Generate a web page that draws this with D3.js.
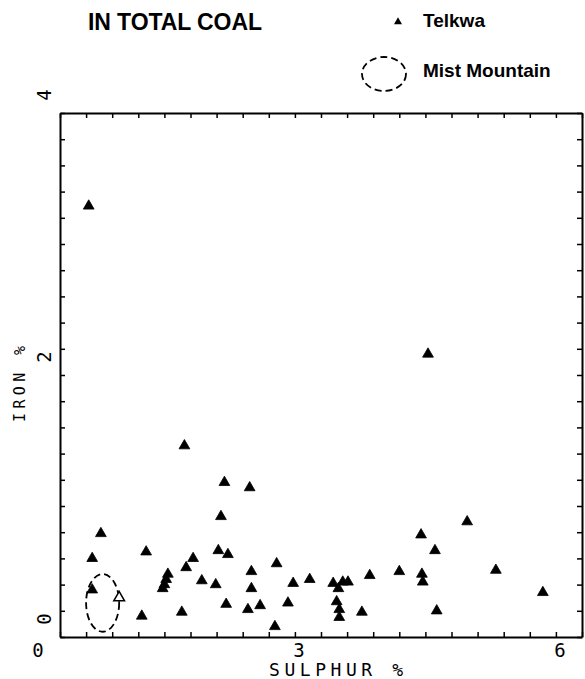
<!DOCTYPE html>
<html>
<head>
<meta charset="utf-8">
<script src="https://cdn.jsdelivr.net/npm/d3@7"></script>
<style>
  body { margin: 0; background: #fff; }
  .axis path { stroke: #000; stroke-width: 2; }
  .axis line { stroke: #000; stroke-width: 1.5; }
  .plotfont { font-family: "DejaVu Sans Mono", monospace; fill: #000; }
</style>
</head>
<body>
<script>
var width = 585,
    height = 679;

// sulphur % / iron % for the Telkwa samples
var sulphur = [0.33, 4.23, 1.43, 1.89, 2.18, 1.85, 0.47, 0.37, 0.99, 1.53,
               1.45, 1.82, 1.93, 2.49, 1.24, 1.22, 1.20, 1.18, 1.63, 1.79,
               2.20, 2.20, 2.68, 2.87, 1.91, 2.30, 2.16, 2.62, 0.94, 1.40,
               2.47, 0.37, 4.68, 4.15, 4.31, 5.01, 3.90, 3.56, 4.16, 4.17,
               3.14, 3.20, 3.25, 3.31, 5.55, 3.18, 3.21, 3.21, 3.47, 4.33];
var iron =    [3.29, 2.16, 1.46, 1.18, 1.14, 0.92, 0.79, 0.60, 0.65, 0.60,
               0.53, 0.66, 0.63, 0.56, 0.48, 0.44, 0.40, 0.37, 0.43, 0.40,
               0.50, 0.37, 0.41, 0.44, 0.25, 0.24, 0.21, 0.26, 0.16, 0.19,
               0.08, 0.36, 0.88, 0.78, 0.66, 0.51, 0.50, 0.47, 0.48, 0.42,
               0.41, 0.37, 0.42, 0.42, 0.34, 0.27, 0.21, 0.15, 0.19, 0.20];

// Mist Mountain field: centre and half-widths (sulphur, iron)
var mistCentre = [0.49, 0.26];
var mistRadius = [0.19, 0.22];
var hollowPoint = [0.68, 0.30];

var xTickLabels = [0, 3, 6];
var yTickLabels = [0, 2, 4];

var margin = {left: 60, right: 3, top: 113, bottom: 42};

var x = d3.scaleLinear().domain([0, 6])
    .range([margin.left, width - margin.right]);
var y = d3.scaleLinear().domain([0, 4])
    .range([height - margin.bottom, margin.top]);

var svg = d3.select("body").append("svg")
    .attr("width", width)
    .attr("height", height);

// title + legend
svg.append("text")
    .attr("x", 88).attr("y", 30)
    .attr("textLength", 174)
    .style("font-family", "'Liberation Sans', Arial, sans-serif")
    .style("font-weight", "bold")
    .style("font-size", "23px")
    .text("IN TOTAL COAL");

svg.append("path")
    .attr("d", d3.symbol(d3.symbolTriangle, 28)())
    .attr("transform", "translate(398,22)");

svg.append("text")
    .attr("x", 423).attr("y", 27)
    .style("font-family", "'Liberation Sans', Arial, sans-serif")
    .style("font-weight", "bold")
    .style("font-size", "19px")
    .text("Telkwa");

svg.append("ellipse")
    .attr("cx", 384).attr("cy", 74)
    .attr("rx", 22).attr("ry", 17)
    .attr("fill", "none")
    .attr("stroke", "#000")
    .attr("stroke-width", 1.8)
    .attr("stroke-dasharray", "7,4");

svg.append("text")
    .attr("x", 423).attr("y", 77)
    .style("font-family", "'Liberation Sans', Arial, sans-serif")
    .style("font-weight", "bold")
    .style("font-size", "19px")
    .text("Mist Mountain");

// frame with inward ticks on all four sides
var xTicks = d3.range(0, 21).map(function(i) { return i * 0.3; });
var yTicks = d3.range(0, 21).map(function(i) { return i * 0.2; });

svg.append("g").attr("class", "axis")
    .attr("transform", "translate(0," + y(0) + ")")
    .call(d3.axisBottom(x).tickValues(xTicks).tickSizeInner(-5).tickSizeOuter(0).tickFormat(""));
svg.append("g").attr("class", "axis")
    .attr("transform", "translate(0," + y(4) + ")")
    .call(d3.axisTop(x).tickValues(xTicks).tickSizeInner(-5).tickSizeOuter(0).tickFormat(""));
svg.append("g").attr("class", "axis")
    .attr("transform", "translate(" + x(0) + ",0)")
    .call(d3.axisLeft(y).tickValues(yTicks).tickSizeInner(-5).tickSizeOuter(0).tickFormat(""));
svg.append("g").attr("class", "axis")
    .attr("transform", "translate(" + x(6) + ",0)")
    .call(d3.axisRight(y).tickValues(yTicks).tickSizeInner(-5).tickSizeOuter(0).tickFormat(""));

// tick labels
svg.selectAll(".xlab")
    .data(xTickLabels)
  .enter().append("text")
    .attr("class", "plotfont")
    .attr("x", function(d) { return x(d) - 22; })
    .attr("y", 657)
    .attr("text-anchor", "middle")
    .style("font-size", "19px")
    .text(function(d) { return d; });

svg.selectAll(".ylab")
    .data(yTickLabels)
  .enter().append("text")
    .attr("class", "plotfont")
    .attr("transform", function(d) {
        return "translate(51," + (y(d) - 18) + ") rotate(-90)";
    })
    .attr("text-anchor", "middle")
    .style("font-size", "19px")
    .text(function(d) { return d; });

// axis titles
svg.append("text")
    .attr("class", "plotfont")
    .attr("x", 269).attr("y", 676)
    .attr("textLength", 134)
    .style("font-size", "18px")
    .text("SULPHUR  %");

svg.append("text")
    .attr("class", "plotfont")
    .attr("transform", "translate(25,422) rotate(-90)")
    .attr("textLength", 76)
    .style("font-size", "15px")
    .text("IRON  %");

// Mist Mountain field
svg.append("ellipse")
    .attr("cx", x(mistCentre[0]))
    .attr("cy", y(mistCentre[1]))
    .attr("rx", x(mistRadius[0]) - x(0))
    .attr("ry", y(0) - y(mistRadius[1]))
    .attr("fill", "none")
    .attr("stroke", "#000")
    .attr("stroke-width", 1.8)
    .attr("stroke-dasharray", "7,4");

// Telkwa points
var tri = d3.symbol(d3.symbolTriangle, 50);
svg.selectAll(".pt")
    .data(d3.range(sulphur.length))
  .enter().append("path")
    .attr("class", "pt")
    .attr("d", tri)
    .attr("stroke", "#000")
    .attr("stroke-width", 0.8)
    .attr("stroke-linejoin", "round")
    .attr("transform", function(i) {
        return "translate(" + x(sulphur[i]) + "," + y(iron[i]) + ")";
    });

svg.append("path")
    .attr("d", tri)
    .attr("fill", "#fff")
    .attr("stroke", "#000")
    .attr("stroke-width", 1.5)
    .attr("transform", "translate(" + x(hollowPoint[0]) + "," + y(hollowPoint[1]) + ")");
</script>
</body>
</html>
